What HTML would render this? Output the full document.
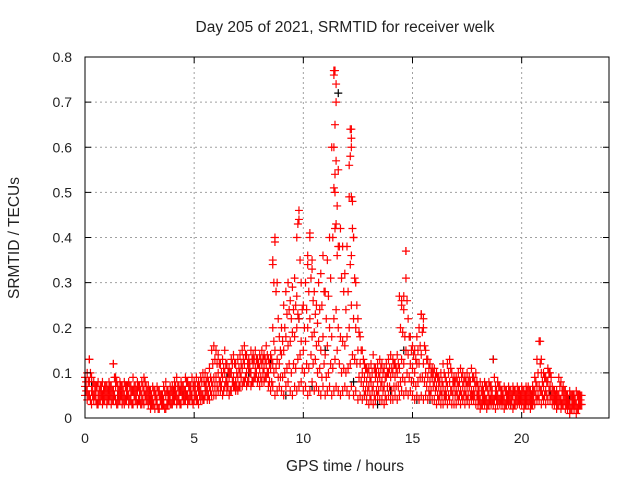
<!DOCTYPE html>
<html><head><meta charset="utf-8"><style>
body{margin:0;background:#fff}
svg{display:block;font-family:"Liberation Sans",sans-serif}
</style></head><body>
<svg id="chart" width="640" height="480" viewBox="0 0 640 480">
<text x="345" y="32" font-size="15.5" text-anchor="middle" fill="#222">Day 205 of 2021, SRMTID for receiver welk</text>
<text x="345" y="471" font-size="15.5" text-anchor="middle" fill="#222">GPS time / hours</text>
<text transform="translate(19,238) rotate(-90)" font-size="15.5" text-anchor="middle" fill="#222">SRMTID / TECUs</text>
<g id="grid"></g>
<g id="marks"></g>
<rect x="85" y="57" width="524" height="361" fill="none" stroke="#000" stroke-width="1"/>
<g id="ticks"></g>
</svg>
<script>
const xTicks=[0,5,10,15,20];
const yTicks=[0,0.1,0.2,0.3,0.4,0.5,0.6,0.7,0.8];
const yTickLabels=["0","0.1","0.2","0.3","0.4","0.5","0.6","0.7","0.8"];
const tStart=0, tStep=0.1, tOffset=0.05;
const lo=[.05,.04,.05,.03,.04,.04,.03,.04,.03,.04, .03,.04,.03,.04,.04,.03,.04,.03,.03,.04, .03,.04,.03,.04,.03,.04,.03,.03,.04,.03, .02,.03,.02,.03,.02,.03,.03,.02,.03,.03, .03,.04,.03,.04,.03,.04,.04,.03,.04,.04, .04,.04,.03,.04,.04,.05,.04,.04,.05,.05, .05,.06,.06,.05,.07,.06,.05,.06,.07,.06, .06,.07,.07,.08,.07,.08,.07,.08,.09,.08, .07,.08,.08,.09,.07,.06,.07,.05,.06,.07, .06,.05,.07,.08,.06,.05,.07,.06,.07,.08, .06,.07,.05,.06,.08,.06,.07,.06,.05,.07, .05,.06,.07,.05,.06,.07,.06,.05,.06,.07, .06,.05,.07,.05,.06,.04,.05,.04,.05,.04, .03,.04,.03,.04,.05,.04,.04,.03,.04,.05, .04,.04,.05,.04,.05,.06,.05,.06,.05,.06, .05,.04,.05,.04,.05,.04,.05,.04,.05,.04, .04,.03,.04,.03,.03,.04,.03,.04,.03,.03, .03,.04,.03,.04,.03,.04,.03,.04,.04,.03, .03,.02,.03,.03,.02,.03,.03,.03,.02,.03, .03,.03,.02,.03,.03,.03,.02,.03,.03,.03, .03,.02,.03,.03,.02,.03,.03,.04,.04,.03, .04,.03,.04,.04,.03,.03,.02,.03,.02,.03, .02,.02,.01,.02,.02,.01,.02,.03];
const mid=[.07,.06,.08,.06,.05,.06,.05,.06,.05,.06, .05,.06,.05,.06,.07,.05,.06,.05,.05,.06, .05,.05,.06,.05,.06,.05,.05,.06,.05,.05, .04,.04,.05,.04,.05,.04,.04,.05,.04,.05, .05,.06,.05,.05,.06,.05,.06,.05,.06,.05, .06,.05,.06,.06,.05,.07,.06,.07,.08,.09, .09,.10,.08,.09,.10,.08,.09,.10,.09,.08, .09,.10,.11,.12,.10,.11,.10,.12,.11,.12, .11,.12,.11,.12,.10,.11,.12,.15,.13,.12, .14,.15,.18,.16,.17,.19,.18,.20,.22,.17, .15,.17,.20,.22,.18,.19,.16,.17,.15,.18, .14,.16,.20,.18,.22,.24,.20,.18,.17,.16, .18,.20,.25,.22,.20,.15,.12,.10,.09,.08, .07,.08,.07,.09,.08,.09,.08,.07,.09,.10, .09,.10,.09,.10,.11,.13,.12,.15,.14,.12, .11,.10,.12,.12,.14,.12,.10,.09,.08,.09, .08,.07,.07,.06,.07,.06,.07,.08,.06,.07, .06,.07,.06,.07,.06,.07,.07,.06,.06,.07, .05,.04,.05,.05,.04,.05,.05,.04,.05,.05, .04,.05,.04,.05,.05,.04,.05,.04,.05,.04, .05,.04,.05,.05,.04,.05,.06,.07,.07,.06, .07,.06,.08,.07,.05,.04,.04,.05,.04,.05, .04,.03,.03,.04,.03,.03,.04,.04];
const hi=[.09,.10,.13,.09,.08,.07,.08,.07,.08,.07, .07,.08,.07,.12,.09,.07,.08,.07,.08,.07, .08,.07,.09,.07,.08,.07,.08,.09,.07,.07, .06,.07,.06,.07,.06,.05,.07,.08,.06,.07, .07,.08,.09,.07,.08,.07,.09,.08,.07,.09, .08,.09,.08,.09,.10,.10,.09,.11,.15,.16, .15,.14,.12,.13,.15,.12,.11,.13,.14,.12, .13,.14,.15,.16,.14,.13,.15,.14,.15,.13, .14,.15,.14,.16,.13,.14,.20,.40,.30,.18, .20,.25,.28,.30,.26,.29,.31,.27,.46,.30, .25,.30,.36,.41,.33,.28,.25,.30,.32,.36, .28,.35,.40,.60,.77,.74,.55,.42,.38,.32, .38,.49,.64,.40,.30,.22,.18,.15,.12,.11, .11,.12,.14,.11,.12,.13,.12,.11,.12,.13, .14,.13,.12,.14,.27,.25,.24,.37,.22,.18, .16,.15,.18,.20,.23,.20,.15,.13,.12,.11, .11,.10,.09,.10,.12,.09,.12,.13,.10,.09, .09,.10,.11,.10,.09,.10,.09,.11,.09,.10, .07,.08,.07,.08,.07,.08,.07,.13,.07,.08, .07,.06,.07,.06,.07,.06,.07,.06,.07,.06, .07,.06,.07,.07,.06,.07,.09,.13,.17,.10, .10,.09,.11,.10,.07,.06,.06,.09,.08,.07, .06,.05,.06,.05,.05,.06,.05,.05];
const lowB=[.06,.05,.04,.05,.05,.03,.04,.05,.04,.05, .04,.05,.04,.05,.03,.04,.05,.04,.04,.05, .04,.03,.05,.04,.04,.03,.04,.05,.04,.04, .03,.03,.04,.02,.04,.03,.02,.03,.04,.03, .04,.05,.04,.03,.05,.04,.05,.04,.05,.03, .05,.04,.05,.05,.04,.06,.05,.06,.07,.07, .07,.08,.07,.06,.08,.07,.06,.08,.07,.07, .07,.09,.08,.09,.08,.10,.08,.09,.10,.09, .09,.10,.09,.10,.08,.08,.10,.11,.09,.09, .09,.10,.11,.12,.10,.12,.11,.13,.14,.11, .10,.12,.11,.14,.12,.13,.10,.11,.09,.12, .09,.10,.12,.11,.13,.15,.12,.10,.11,.10, .11,.12,.14,.13,.12,.09,.08,.07,.06,.06, .05,.06,.05,.06,.06,.07,.06,.05,.07,.07, .06,.07,.07,.07,.08,.09,.08,.10,.09,.08, .08,.07,.08,.09,.09,.08,.07,.06,.06,.07, .06,.05,.05,.05,.05,.05,.05,.06,.05,.05, .05,.05,.05,.05,.05,.05,.05,.05,.05,.05, .04,.03,.04,.04,.03,.04,.04,.04,.04,.04, .04,.04,.03,.04,.04,.04,.03,.04,.04,.04, .04,.03,.04,.04,.03,.04,.05,.05,.06,.05, .05,.05,.06,.05,.04,.04,.03,.04,.03,.04, .03,.03,.02,.03,.03,.02,.03,.03];
const highB=[.08,.08,.10,.07,.07,.07,.06,.07,.06,.07, .06,.07,.06,.09,.08,.06,.07,.06,.07,.07, .07,.06,.07,.06,.07,.06,.07,.08,.06,.06, .05,.06,.05,.06,.05,.05,.06,.06,.05,.06, .06,.07,.07,.06,.07,.06,.08,.07,.07,.07, .07,.07,.07,.08,.08,.08,.08,.09,.12,.13, .12,.12,.10,.11,.12,.10,.10,.12,.12,.10, .11,.12,.13,.14,.12,.12,.13,.13,.13,.12, .13,.13,.13,.14,.12,.13,.17,.28,.22,.15, .17,.20,.23,.24,.22,.24,.25,.23,.35,.24, .20,.24,.28,.31,.26,.23,.21,.24,.25,.28, .22,.27,.31,.40,.50,.47,.38,.31,.28,.24, .28,.34,.42,.31,.25,.19,.15,.13,.11,.10, .09,.10,.11,.10,.10,.11,.10,.09,.10,.11, .11,.12,.11,.12,.20,.19,.18,.26,.18,.15, .14,.13,.15,.16,.19,.16,.13,.11,.10,.10, .09,.09,.08,.08,.10,.08,.10,.11,.08,.08, .08,.08,.09,.08,.08,.08,.08,.09,.08,.08, .06,.06,.06,.07,.06,.07,.06,.09,.06,.07, .06,.05,.06,.05,.06,.05,.06,.05,.06,.05, .06,.05,.06,.06,.05,.06,.08,.10,.12,.08, .09,.08,.10,.09,.06,.05,.05,.07,.06,.06, .05,.04,.05,.05,.04,.05,.05,.05];
const spikeT=[0.2,1.3,8.6,8.6,8.7,8.65,9.75,9.8,9.7,10.3,10.2,10.4,11.4,11.45,11.5,11.45,11.4,11.5,11.45,11.4,11.5,11.45,11.6,11.55,12.15,12.2,12.2,12.15,12.1,12.2,12.25,12.3,12.2,14.7,14.7,14.6,14.5,15.4,15.5,20.85,20.9];
const spikeV=[.13,.12,.35,.34,.39,.30,.43,.44,.40,.40,.34,.35,.76,.77,.70,.65,.60,.57,.54,.51,.43,.42,.38,.36,.64,.62,.60,.58,.56,.49,.48,.40,.36,.37,.31,.27,.26,.23,.22,.17,.13];
const blkT=[0.3,1.5,2.5,3.5,4.5,5.5,6.5,7.5,8.5,9.2,9.8,10.4,11.0,11.6,12.3,12.8,13.4,14.0,14.6,15.2,15.8,16.5,17.5,18.7,19.5,20.5,21.3,22.2];
const blkV=[.08,.05,.04,.04,.05,.06,.09,.10,.12,.05,.22,.07,.15,.72,.08,.05,.03,.06,.15,.04,.04,.05,.04,.13,.03,.05,.06,.04];
const X=t=>85+t*(524/24), Y=v=>418-v*(361/0.8);
const NS="http://www.w3.org/2000/svg";
const grid=document.getElementById('grid'),ticks=document.getElementById('ticks'),marks=document.getElementById('marks');
function mk(tag,attrs,parent){const e=document.createElementNS(NS,tag);for(const k in attrs)e.setAttribute(k,attrs[k]);parent.appendChild(e);return e;}
yTicks.forEach((v,i)=>{
  if(v>0&&v<0.8){const g=mk('line',{x1:85,x2:609,y1:Y(v),y2:Y(v),stroke:'#a0a0a0','stroke-dasharray':'2,3'},grid);
  
  }
  const t=mk('text',{x:72,y:Y(v)+5,'font-size':14,'text-anchor':'end',fill:'#222'},ticks);t.textContent=yTickLabels[i];
  
  
  mk('line',{x1:85,x2:91,y1:Y(v),y2:Y(v),stroke:'#000'},ticks);mk('line',{x1:603,x2:609,y1:Y(v),y2:Y(v),stroke:'#000'},ticks);
});
xTicks.forEach(v=>{
  if(v>0){const g=mk('line',{x1:X(v),x2:X(v),y1:57,y2:418,stroke:'#a0a0a0','stroke-dasharray':'2,3'},grid);
  
  }
  const t=mk('text',{x:X(v),y:443,'font-size':14,'text-anchor':'middle',fill:'#222'},ticks);t.textContent=String(v);
  
  
  mk('line',{x1:X(v),x2:X(v),y1:412,y2:418,stroke:'#000'},ticks);mk('line',{x1:X(v),x2:X(v),y1:57,y2:63,stroke:'#000'},ticks);
});
function plus(t,v,color,name){
  const x=X(t),y=Y(v);
  const p=mk('path',{d:`M${x-4} ${y}h8M${x} ${y-4}v8`,stroke:color,'stroke-width':1.2,fill:'none'},marks);
  
  
}
blkT.forEach((t,i)=>plus(t,blkV[i],'#000','black-point'));
[lo,mid,hi].forEach(arr=>arr.forEach((v,i)=>plus(tStart+i*tStep,v,'#ff0000','red-point')));
[lowB,highB].forEach(arr=>arr.forEach((v,i)=>plus(tStart+tOffset+i*tStep,v,'#ff0000','red-point')));
spikeT.forEach((t,i)=>plus(t,spikeV[i],'#ff0000','red-spike-point'));
</script>
</body></html>
